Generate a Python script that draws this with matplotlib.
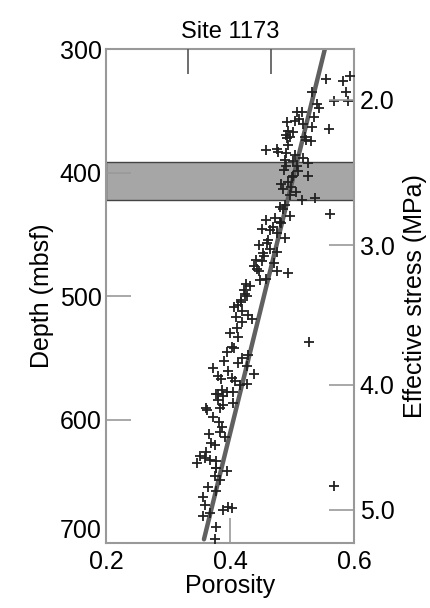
import numpy as np
import matplotlib.pyplot as plt

plt.rcParams['font.family'] = ['Liberation Sans', 'DejaVu Sans']

# measured porosity vs depth (mbsf)
porosity = [0.555, 0.583, 0.594, 0.587, 0.567, 0.591, 0.532, 0.540, 0.544, 0.508,
            0.516, 0.536, 0.492, 0.505, 0.512, 0.518, 0.532, 0.559, 0.494, 0.502,
            0.490, 0.497, 0.521, 0.492, 0.523, 0.530, 0.494, 0.458, 0.475, 0.478,
            0.491, 0.505, 0.517, 0.489, 0.502, 0.526, 0.490, 0.508, 0.510, 0.487,
            0.526, 0.502, 0.483, 0.494, 0.499, 0.486, 0.497, 0.516, 0.537, 0.489,
            0.485, 0.561, 0.496, 0.458, 0.473, 0.481, 0.483, 0.451, 0.465, 0.475,
            0.489, 0.446, 0.459, 0.465, 0.454, 0.475, 0.442, 0.451, 0.471, 0.438,
            0.446, 0.476, 0.494, 0.448, 0.458, 0.426, 0.423, 0.428, 0.417, 0.413,
            0.406, 0.420, 0.429, 0.435, 0.419, 0.411, 0.413, 0.403, 0.406, 0.528,
            0.429, 0.419, 0.413, 0.428, 0.373, 0.380, 0.397, 0.403, 0.438, 0.408,
            0.416, 0.428, 0.387, 0.378, 0.395, 0.362, 0.381, 0.389, 0.405, 0.363,
            0.384, 0.389, 0.405, 0.383, 0.387, 0.384, 0.392, 0.370, 0.376, 0.352,
            0.360, 0.368, 0.346, 0.378, 0.378, 0.378, 0.395, 0.376, 0.384, 0.365,
            0.378, 0.357, 0.360, 0.356, 0.368, 0.388, 0.396, 0.404, 0.378, 0.376,
            0.568, 0.500, 0.506, 0.480, 0.470, 0.462, 0.455, 0.444, 0.432, 0.424,
            0.418, 0.410, 0.400, 0.395, 0.391, 0.386, 0.380, 0.372, 0.366, 0.362]
depth = [324, 326, 322, 335, 342, 342, 335, 344.5, 348, 351,
         351, 355, 359, 358, 357, 361, 363, 365, 366, 367,
         370, 371, 371.5, 372, 374, 374.5, 378, 382, 381, 383,
         384.5, 386, 388, 390, 391, 392, 395, 395, 399, 398,
         402.5, 403, 409, 407.5, 411.5, 413, 418, 422, 421, 426,
         429.5, 434, 435, 438.5, 437, 440, 441, 446, 446.5, 449,
         453, 459, 457, 462, 465, 464, 471, 472, 473, 476,
         480, 479.5, 481.6, 487, 486.5, 490, 495, 500, 503, 507,
         509, 512, 515, 519, 521, 526, 533, 541, 542, 537.5,
         548, 550.5, 554.5, 556.5, 558.5, 564.5, 561, 566, 563, 569,
         572, 571, 576, 579, 578, 591, 579, 581, 577.5, 592,
         591, 588, 587, 602, 606, 610, 614, 619, 621, 629.5,
         631, 633, 635.5, 634, 639, 639.5, 642, 646, 649, 655,
         658, 662.5, 669, 678, 676, 673, 670.5, 672, 687, 697,
         654, 404, 416, 428, 444, 455, 468, 478, 492, 498,
         505, 517, 530, 545, 553, 567, 584, 598, 612, 626]

# trend line
trend_por = [0.358, 0.553]
trend_depth = [697, 300]

# shaded interval
band_top, band_bottom = 391.5, 422

# effective stress scale on the right
stress_labels = ['2.0', '3.0', '4.0', '5.0']
stress_depth = [341, 459, 572, 673]

top_ticks = [0.332, 0.466]

fig = plt.figure(figsize=(4.3, 6.08), dpi=100)
ax = fig.add_axes([0.2465, 0.1069, 0.5768, 0.8125])

ax.axhspan(band_top, band_bottom, facecolor='#a6a6a6', edgecolor='#444444', linewidth=1.0, zorder=1)
ax.plot(porosity, depth, '+', color='#222222', markersize=7.5, markeredgewidth=1.3, zorder=3)
ax.plot(trend_por, trend_depth, color='#606060', linewidth=3.2, solid_capstyle='round', zorder=2)

ax.set_xlim(0.2, 0.6)
ax.set_ylim(700, 300)
ax.set_xticks([0.2, 0.4, 0.6])
ax.set_xticklabels(['0.2', '0.4', '0.6'])
ax.set_yticks([300, 400, 500, 600, 700])
ax.set_yticklabels(['300', '400', '500', '600', '700'])
ax.tick_params(direction='in', length=18, width=1.2, color='#999999', labelsize=18, pad=3)
ax.tick_params(axis='x', pad=5)
ax.get_yticklabels()[-1].set_va('bottom')
ax.set_xlabel('Porosity', fontsize=18, labelpad=0)
ax.set_ylabel('Depth (mbsf)', fontsize=18, labelpad=4)
ax.set_title('Site 1173', fontsize=17, pad=8)
for s in ax.spines.values():
    s.set_color('#999999')
    s.set_linewidth(1.5)

ax2 = ax.twinx()
ax2.set_ylim(700, 300)
ax2.set_yticks(stress_depth)
ax2.set_yticklabels(stress_labels)
ax2.tick_params(direction='in', length=18, width=1.2, color='#999999', labelsize=18, pad=4)
ax2.set_ylabel('Effective stress (MPa)', fontsize=18, labelpad=6)
for s in ax2.spines.values():
    s.set_visible(False)

ax3 = ax.twiny()
ax3.set_xlim(0.2, 0.6)
ax3.set_xticks(top_ticks)
ax3.set_xticklabels([])
ax3.tick_params(direction='in', length=18, width=1.2, color='#555555')
for s in ax3.spines.values():
    s.set_visible(False)

fig.savefig('out.png', dpi=100)
